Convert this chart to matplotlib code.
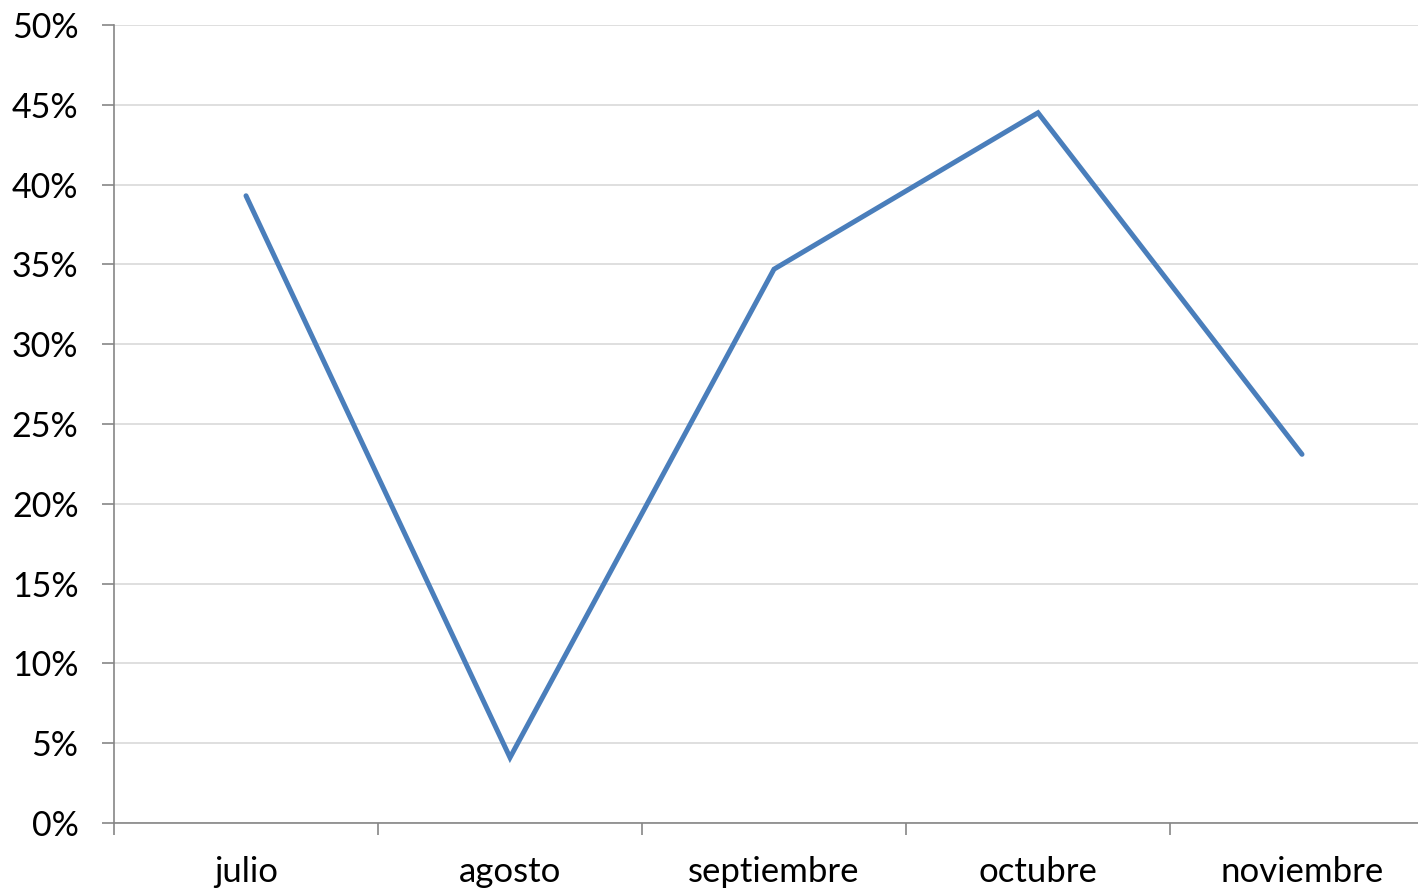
import matplotlib.pyplot as plt
from matplotlib.ticker import FixedLocator, FuncFormatter

months = ['julio', 'agosto', 'septiembre', 'octubre', 'noviembre']
values = [39.3, 4.1, 34.7, 44.5, 23.1]
y_ticks = [0, 5, 10, 15, 20, 25, 30, 35, 40, 45, 50]

plt.rcParams['font.family'] = ['Lato', 'DejaVu Sans']

W, H = 1418, 892
fig = plt.figure(figsize=(W / 100, H / 100), dpi=100)
# plot area in pixels: x 114..1434, y 25..823
ax = fig.add_axes([114 / W, 1 - 823 / H, 1320 / W, 798 / H])

x = list(range(len(months)))
ax.plot(x, values, color='#4A7EBB', lw=3.6, solid_joinstyle='miter',
        solid_capstyle='round', zorder=3)

ax.set_xlim(-0.5, len(months) - 0.5)
ax.set_ylim(0, 50)
ax.set_yticks(y_ticks)
ax.yaxis.set_major_formatter(FuncFormatter(lambda v, p: f'{v:.0f}%'))
ax.grid(axis='y', color='#D9D9D9', lw=1.2)
ax.set_axisbelow(True)

ax.set_xticks(x)
ax.set_xticklabels(months)
ax.xaxis.set_minor_locator(FixedLocator([i - 0.5 for i in range(len(months) + 1)]))
ax.tick_params(axis='x', which='major', length=0, pad=24, labelsize=25)
ax.tick_params(axis='x', which='minor', length=8.5, width=1.2, color='#868686')
ax.tick_params(axis='y', length=8.5, width=1.2, color='#868686', labelsize=24.5, pad=17)

for s in ['top', 'right']:
    ax.spines[s].set_visible(False)
for s in ['left', 'bottom']:
    ax.spines[s].set_color('#868686')
    ax.spines[s].set_linewidth(1.2)

fig.savefig('out.png', dpi=100)
